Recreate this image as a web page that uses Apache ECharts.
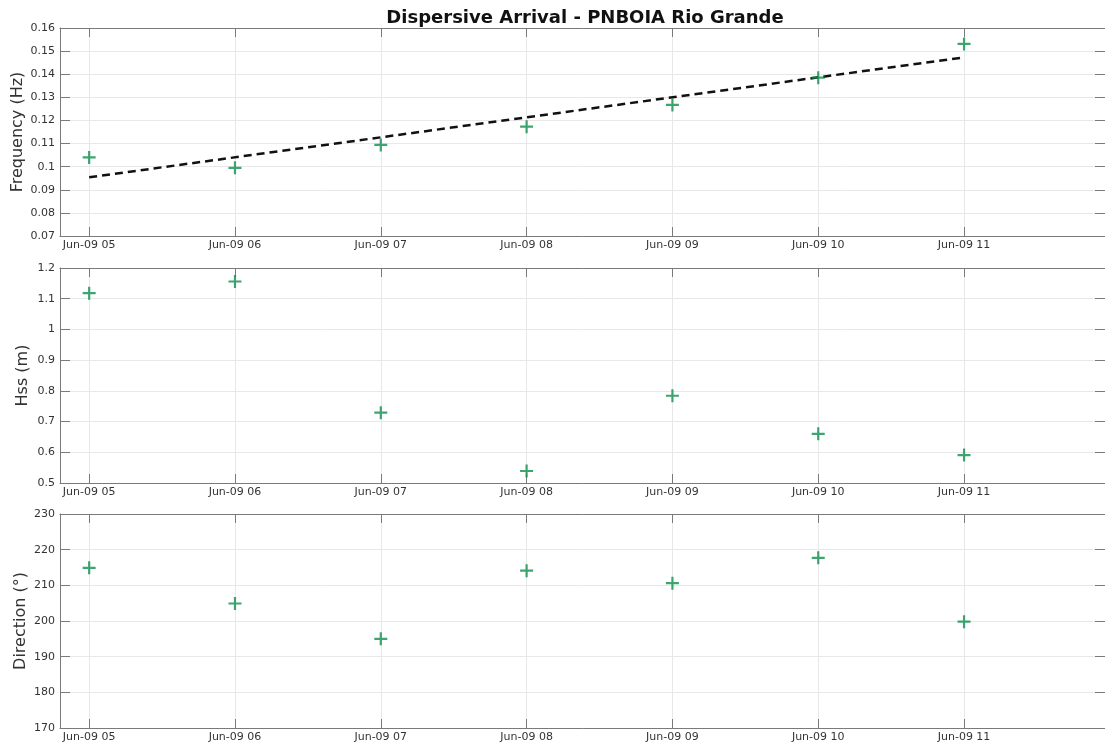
<!DOCTYPE html>
<html>
<head>
<meta charset="utf-8">
<script src="https://cdn.jsdelivr.net/npm/echarts@6/dist/echarts.min.js"></script>
<style>
  html, body { margin: 0; padding: 0; background: #fff; }
  #chart { width: 1105px; height: 751px; }
</style>
</head>
<body>
<div id="chart"></div>
<script>
// Observation times (hourly) and the measured quantities at each time
const times = ['2021-06-09T05:00', '2021-06-09T06:00', '2021-06-09T07:00', '2021-06-09T08:00',
               '2021-06-09T09:00', '2021-06-09T10:00', '2021-06-09T11:00'];
const frequency = [0.104, 0.0995, 0.1094, 0.1173, 0.1267, 0.1385, 0.1531];
const hss = [1.118, 1.156, 0.729, 0.539, 0.784, 0.660, 0.591];
const direction = [214.9, 204.9, 195.0, 214.1, 210.6, 217.7, 199.8];

// Linear dispersion fit, given by its two end points
const fitTimes = ['2021-06-09T05:00', '2021-06-09T11:00'];
const fitFrequency = [0.0954, 0.1473];

// Axis ranges
const xRange = ['2021-06-09T04:48', '2021-06-09T11:58'];
const freqAxis = { min: 0.07, max: 0.16, interval: 0.01 };
const hssAxis = { min: 0.5, max: 1.2, interval: 0.1 };
const dirAxis = { min: 170, max: 230, interval: 10 };

const MONTHS = ['Jan','Feb','Mar','Apr','May','Jun','Jul','Aug','Sep','Oct','Nov','Dec'];
const pad = n => String(n).padStart(2, '0');
const ts = s => new Date(s).getTime();
const pairs = (xs, ys) => xs.map((x, i) => [ts(x), ys[i]]);

const FONT = 'DejaVu Sans';
const AXIS_COLOR = '#7a7a7a';
const TEXT_COLOR = '#333333';
const GRID_COLOR = '#e8e8e8';
const GREEN = '#0e8f4e';
const PLUS = 'path://M5.4,0H7.6V5.4H13V7.6H7.6V13H5.4V7.6H0V5.4H5.4Z';

const grids = [
  { left: 60, right: 0, top: 28, height: 208, outerBoundsMode: 'none', containLabel: false },
  { left: 60, right: 0, top: 268, height: 215, outerBoundsMode: 'none', containLabel: false },
  { left: 60, right: 0, top: 514, height: 214, outerBoundsMode: 'none', containLabel: false }
];

const xAxes = [];
const yAxes = [];
grids.forEach((g, i) => {
  // bottom axis with labels
  xAxes.push({
    type: 'time', gridIndex: i, position: 'bottom',
    min: ts(xRange[0]), max: ts(xRange[1]),
    minInterval: 3600000, maxInterval: 3600000,
    axisLine: { show: true, lineStyle: { color: AXIS_COLOR, width: 1 } },
    axisTick: { show: true, inside: true, length: 9, lineStyle: { color: AXIS_COLOR } },
    splitLine: { show: true, lineStyle: { color: GRID_COLOR, width: 1 } },
    axisLabel: {
      fontFamily: FONT, fontSize: 11, color: TEXT_COLOR, margin: 4,
      showMinLabel: false, showMaxLabel: false, hideOverlap: false,
      formatter: v => {
        const d = new Date(v);
        return MONTHS[d.getMonth()] + '-' + pad(d.getDate()) + ' ' + pad(d.getHours());
      }
    }
  });
  // top axis: box edge with inward ticks
  xAxes.push({
    type: 'time', gridIndex: i, position: 'top',
    min: ts(xRange[0]), max: ts(xRange[1]),
    minInterval: 3600000, maxInterval: 3600000,
    axisLine: { show: true, lineStyle: { color: AXIS_COLOR, width: 1 } },
    axisTick: { show: true, inside: true, length: 9, lineStyle: { color: AXIS_COLOR } },
    splitLine: { show: false },
    axisLabel: { show: false }
  });
});

const yDefs = [
  { name: 'Frequency (Hz)', range: freqAxis, gap: 34 },
  { name: 'Hss (m)', range: hssAxis, gap: 29 },
  { name: 'Direction (°)', range: dirAxis, gap: 31 }
];
yDefs.forEach((d, i) => {
  yAxes.push({
    type: 'value', gridIndex: i, position: 'left',
    min: d.range.min, max: d.range.max, interval: d.range.interval,
    name: d.name, nameLocation: 'middle', nameGap: d.gap, nameMoveOverlap: false,
    nameTextStyle: { fontFamily: FONT, fontSize: 16, color: TEXT_COLOR },
    axisLine: { show: true, lineStyle: { color: AXIS_COLOR, width: 1 } },
    axisTick: { show: true, inside: true, length: 10, lineStyle: { color: AXIS_COLOR } },
    splitLine: { show: true, lineStyle: { color: GRID_COLOR, width: 1 } },
    axisLabel: { fontFamily: FONT, fontSize: 11, color: TEXT_COLOR, margin: 5 }
  });
  yAxes.push({
    type: 'value', gridIndex: i, position: 'right',
    min: d.range.min, max: d.range.max, interval: d.range.interval,
    axisLine: { show: true, lineStyle: { color: AXIS_COLOR, width: 1 } },
    axisTick: { show: true, inside: true, length: 10, lineStyle: { color: AXIS_COLOR } },
    splitLine: { show: false },
    axisLabel: { show: false }
  });
});

const scatter = (i, values) => ({
  type: 'scatter', xAxisIndex: i * 2, yAxisIndex: i * 2,
  data: pairs(times, values),
  symbol: PLUS, symbolSize: 13,
  itemStyle: { color: GREEN },
  silent: true, z: 5
});

const option = {
  animation: false,
  backgroundColor: '#ffffff',
  title: {
    text: 'Dispersive Arrival - PNBOIA Rio Grande',
    left: 580, top: 4, textAlign: 'center',
    textStyle: { fontFamily: FONT, fontSize: 18, fontWeight: 'bold', color: '#111111' }
  },
  grid: grids,
  xAxis: xAxes,
  yAxis: yAxes,
  series: [
    {
      type: 'line', xAxisIndex: 0, yAxisIndex: 0,
      data: pairs(fitTimes, fitFrequency),
      showSymbol: false, silent: true, z: 4,
      lineStyle: { color: '#111111', width: 2.5, type: [8, 5] }
    },
    scatter(0, frequency),
    scatter(1, hss),
    scatter(2, direction)
  ]
};

echarts.init(document.getElementById('chart')).setOption(option);
</script>
</body>
</html>
